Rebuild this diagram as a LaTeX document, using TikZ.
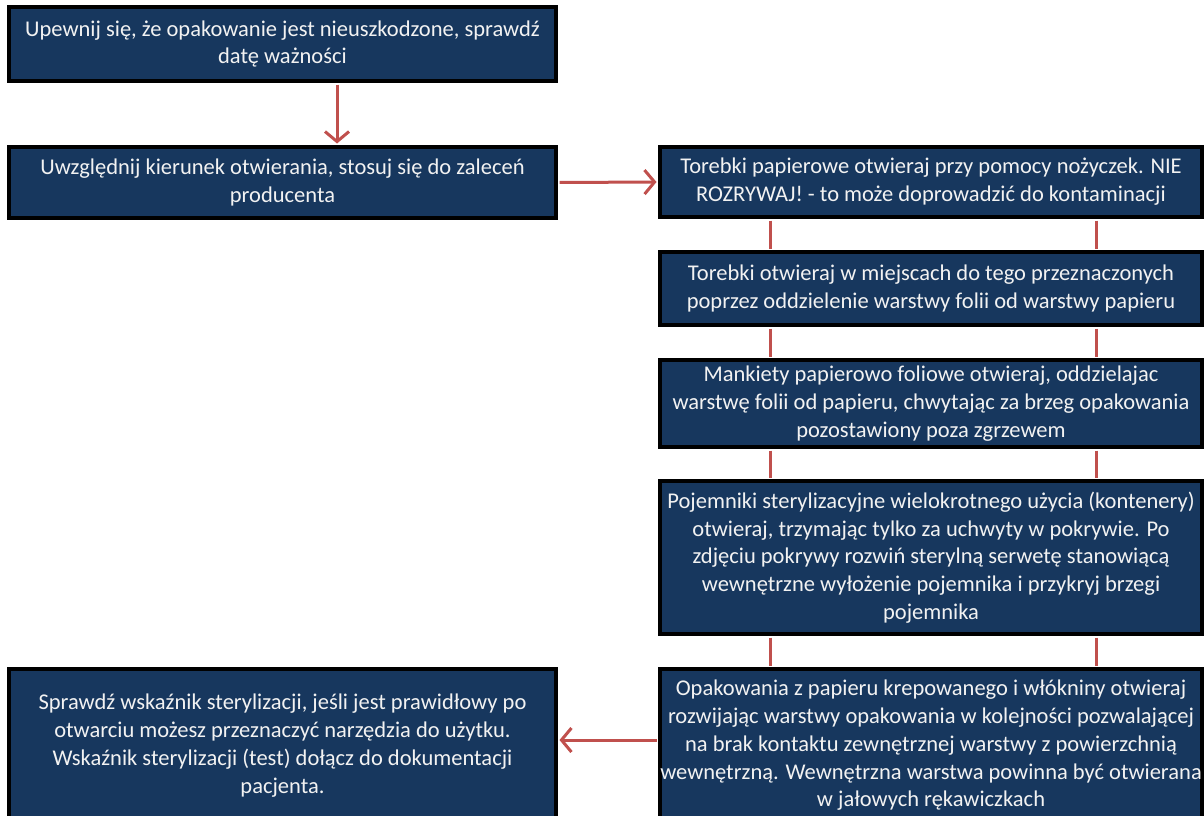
\documentclass[tikz,border=0pt]{standalone}
\usepackage{fontspec}
\setmainfont{Carlito}
\usetikzlibrary{arrows.meta}
\definecolor{navy}{HTML}{17375E}
\definecolor{linkred}{HTML}{C0504D}
\definecolor{txt}{HTML}{F2F2F2}
\begin{document}
\begin{tikzpicture}[x=1pt,y=-1pt,
  box/.style={draw=black, line width=3.5pt, fill=navy, text=txt, inner sep=0pt,
    align=center, font=\fontsize{22.5}{27.8}\selectfont},
  leftbox/.style={box, minimum width=547pt},
  rightbox/.style={box, minimum width=542pt},
  link/.style={draw=linkred, line width=3pt, shorten <=1.75pt, shorten >=1.75pt},
  arr/.style={draw=linkred, line width=3pt, shorten <=1.75pt, shorten >=1.75pt,
    -{Straight Barb[length=10pt,width=24pt]}}]
\useasboundingbox (0,0) rectangle (1204,816);
\node[leftbox, minimum height=74pt] (b1) at (282.5,44)
  {Upewnij się, że opakowanie jest nieuszkodzone, sprawdź\\datę ważności};
\node[leftbox, minimum height=71pt] (b2) at (282.5,182.5)
  {Uwzględnij kierunek otwierania, stosuj się do zaleceń\\producenta};
\node[rightbox, minimum height=70pt] (b3) at (931,182)
  {Torebki papierowe otwieraj przy pomocy nożyczek. NIE\\ROZRYWAJ! - to może doprowadzić do kontaminacji};
\node[rightbox, minimum height=73pt] (b4) at (931,288.5)
  {Torebki otwieraj w miejscach do tego przeznaczonych\\poprzez oddzielenie warstwy folii od warstwy papieru};
\node[rightbox, minimum height=87pt] (b5) at (931,403.5)
  {Mankiety papierowo foliowe otwieraj, oddzielajac\\warstwę folii od papieru, chwytając za brzeg opakowania\\pozostawiony poza zgrzewem};
\node[rightbox, minimum height=153pt] (b6) at (931,557.5)
  {Pojemniki sterylizacyjne wielokrotnego użycia (kontenery)\\otwieraj, trzymając tylko za uchwyty w pokrywie. Po\\zdjęciu pokrywy rozwiń sterylną serwetę stanowiącą\\wewnętrzne wyłożenie pojemnika i przykryj brzegi\\pojemnika};
\node[rightbox, minimum height=153pt] (b7) at (931,745.5)
  {Opakowania z papieru krepowanego i włókniny otwieraj\\rozwijając warstwy opakowania w kolejności pozwalającej\\na brak kontaktu zewnętrznej warstwy z powierzchnią\\wewnętrzną. Wewnętrzna warstwa powinna być otwierana\\w jałowych rękawiczkach};
\node[leftbox, minimum height=153pt] (b8) at (282.5,745.5)
  {Sprawdź wskaźnik sterylizacji, jeśli jest prawidłowy po\\otwarciu możesz przeznaczyć narzędzia do użytku.\\Wskaźnik sterylizacji (test) dołącz do dokumentacji\\pacjenta.};
\coordinate (ax) at (337,0);
\coordinate (lx) at (770,0);
\coordinate (rx) at (1096,0);
\coordinate (ay) at (0,740);
\draw[arr] (b1.south -| ax) -- (b2.north -| ax);
\draw[arr] (b2.east) -- (b3.west);
\draw[arr] (b7.west |- ay) -- (b8.east |- ay);
\foreach \u/\v in {b3/b4, b4/b5, b5/b6, b6/b7} {
  \draw[link] (\u.south -| lx) -- (\v.north -| lx);
  \draw[link] (\u.south -| rx) -- (\v.north -| rx);
}
\end{tikzpicture}
\end{document}
